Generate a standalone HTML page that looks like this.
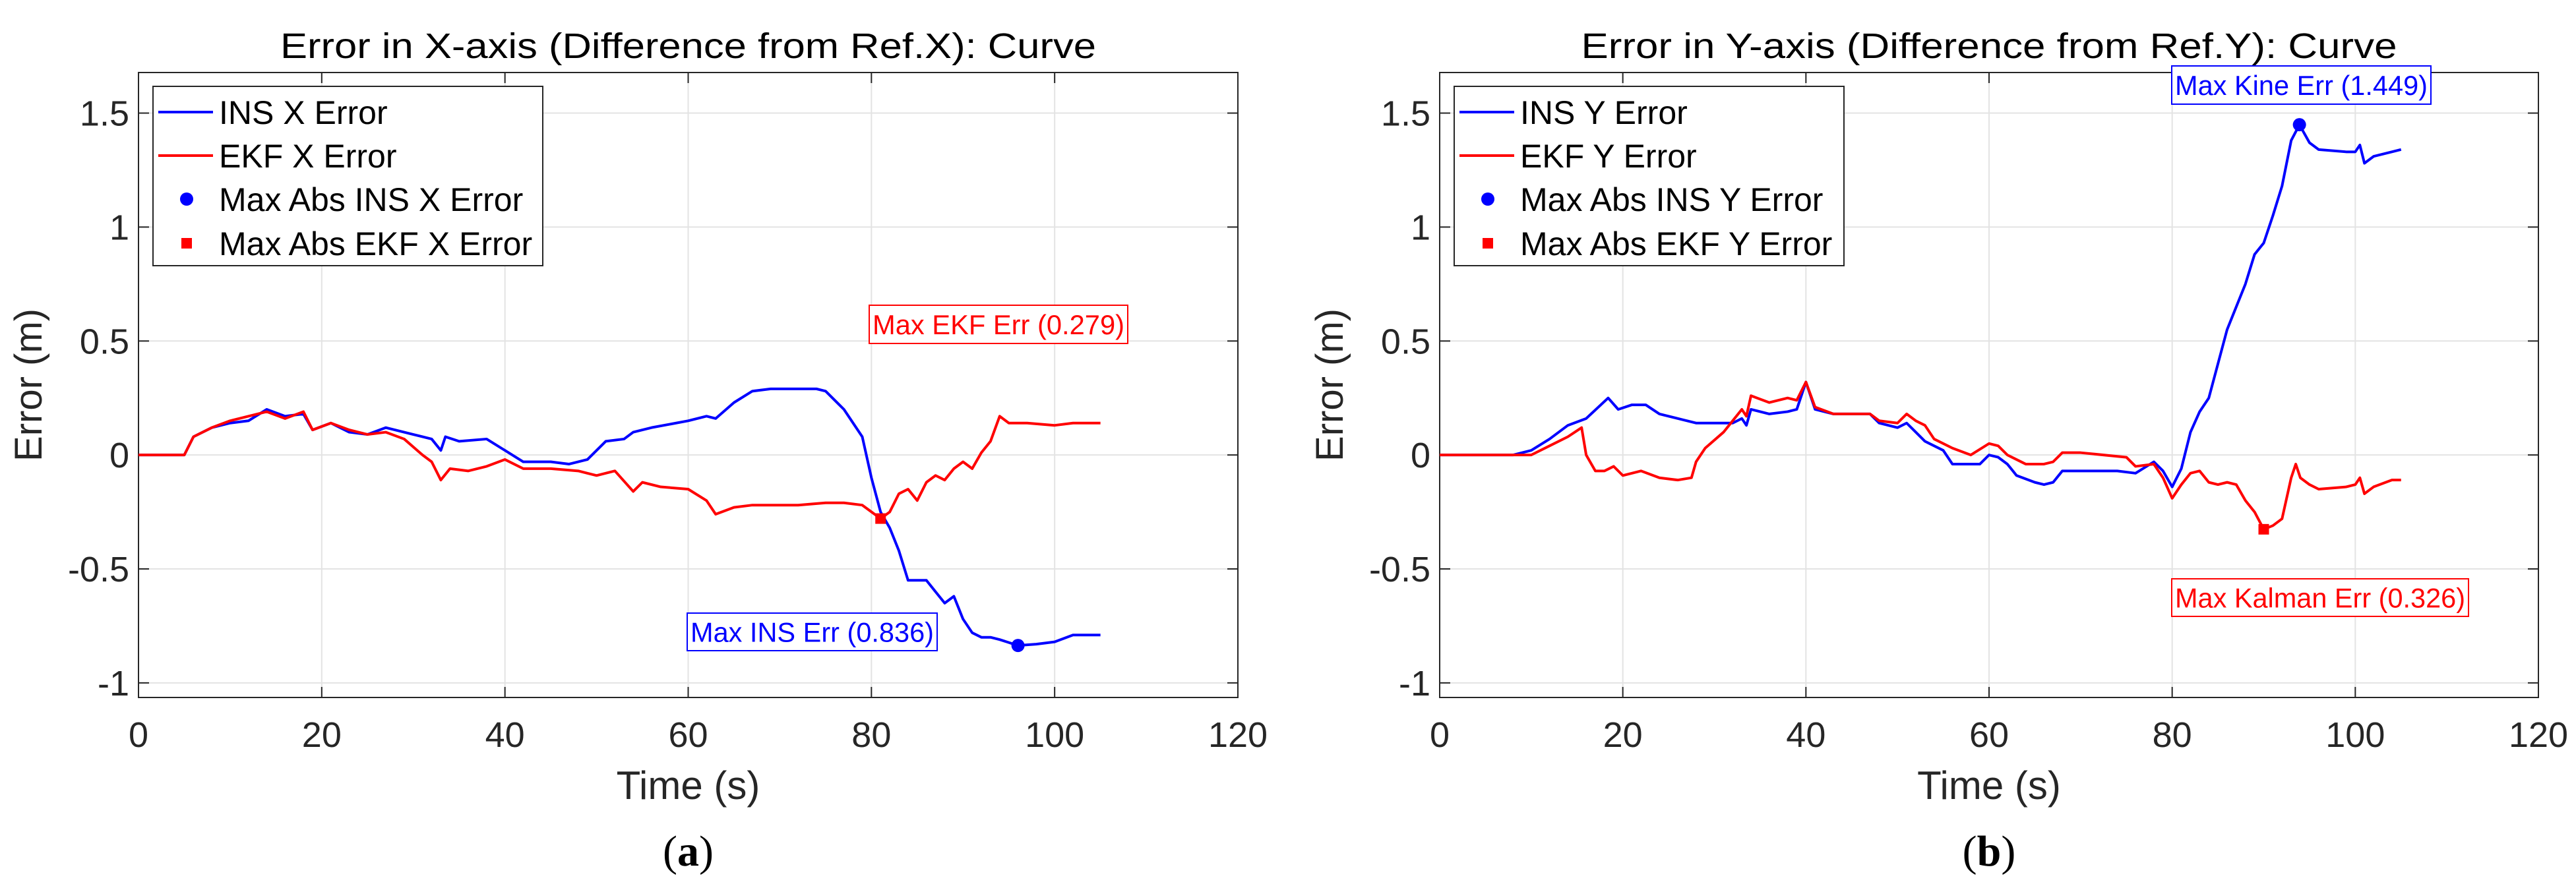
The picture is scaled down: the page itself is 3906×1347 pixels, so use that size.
<!DOCTYPE html>
<html><head><meta charset="utf-8"><style>
html,body{margin:0;padding:0;background:#fff;}
svg{display:block;font-family:"Liberation Sans",Arial,sans-serif;}
</style></head><body>
<svg id="fig" width="3906" height="1347" viewBox="0 0 3906 1347"></svg>
<script>
const xTicks=[0,20,40,60,80,100,120];
const yTicks=[-1,-0.5,0,0.5,1,1.5];
const yTickLabels=["-1","-0.5","0","0.5","1","1.5"];
const tX=[0,5,6,8,10,12,14,16,18,19,21,23,25,27,30,32,33,33.5,35,38,40,42,45,47,49,51,53,54,56,60,62,63,65,67,69,72,74,75,77,79,80,81,82,83,84,86,87,88,89,90,91,92,93,94,96,98,100,102,105];
const insX=[0,0,0.08,0.12,0.14,0.15,0.2,0.17,0.18,0.11,0.14,0.1,0.09,0.12,0.09,0.07,0.02,0.08,0.06,0.07,0.02,-0.03,-0.03,-0.04,-0.02,0.06,0.07,0.1,0.12,0.15,0.17,0.16,0.23,0.28,0.29,0.29,0.29,0.28,0.2,0.08,-0.1,-0.25,-0.32,-0.42,-0.55,-0.55,-0.6,-0.65,-0.62,-0.72,-0.78,-0.8,-0.8,-0.81,-0.836,-0.83,-0.82,-0.79,-0.79];
const tEX=[0,5,6,8,10,14,16,18,19,21,23,25,27,29,31,32,33,34,36,38,40,42,45,48,50,52,54,55,57,60,62,63,65,67,72,75,77,79,81,82,83,84,85,86,87,88,89,90,91,92,93,94,95,97,100,102,105];
const ekfX=[0,0,0.08,0.12,0.15,0.19,0.16,0.19,0.11,0.14,0.11,0.09,0.1,0.07,0,-0.03,-0.11,-0.06,-0.07,-0.05,-0.02,-0.06,-0.06,-0.07,-0.09,-0.07,-0.16,-0.12,-0.14,-0.15,-0.2,-0.26,-0.23,-0.22,-0.22,-0.21,-0.21,-0.22,-0.279,-0.25,-0.17,-0.15,-0.2,-0.12,-0.09,-0.11,-0.06,-0.03,-0.06,0.01,0.06,0.17,0.14,0.14,0.13,0.14,0.14];
const tY=[0,8,10,12,14,16,18.4,19.5,21,22.5,24,26,28,30,32,33,33.5,34,36,38,39,40,41,43,47,48,50,51,52,53,55,56,58,59,60,61,62,63,65,66,67,68,70,74,76,78,79,80,81,82,83,84,85,86,87,88,89,90,91,92,93,93.9,95,96,99,100,100.5,101,102,104,105];
const insY=[0,0,0.02,0.07,0.13,0.16,0.25,0.2,0.22,0.22,0.18,0.16,0.14,0.14,0.14,0.16,0.13,0.2,0.18,0.19,0.2,0.32,0.2,0.18,0.18,0.14,0.12,0.14,0.1,0.06,0.02,-0.04,-0.04,-0.04,0.0,-0.01,-0.04,-0.09,-0.12,-0.13,-0.12,-0.07,-0.07,-0.07,-0.08,-0.03,-0.07,-0.14,-0.06,0.1,0.19,0.25,0.4,0.55,0.65,0.75,0.88,0.93,1.05,1.18,1.38,1.449,1.37,1.34,1.33,1.33,1.36,1.28,1.31,1.33,1.34];
const tEY=[0,10,12,14,15.5,16,17,18,19,20,22,24,26,27.5,28,29,31,33,33.5,34,36,38,39,40,41,43,47,48,50,51,52,53,54,56,58,60,61,62,64,66,67,68,70,75,76,78,79,80,81,82,83,84,85,86,87,88,89,90,91,92,93,93.5,94,95,96,99,100,100.5,101,102,104,105];
const ekfY=[0,0,0.04,0.08,0.12,0.0,-0.07,-0.07,-0.05,-0.09,-0.07,-0.1,-0.11,-0.1,-0.03,0.03,0.1,0.2,0.17,0.26,0.23,0.25,0.24,0.32,0.21,0.18,0.18,0.15,0.14,0.18,0.15,0.13,0.07,0.03,0.0,0.05,0.04,0.0,-0.04,-0.04,-0.03,0.01,0.01,-0.01,-0.05,-0.04,-0.1,-0.19,-0.13,-0.08,-0.07,-0.12,-0.13,-0.12,-0.13,-0.2,-0.25,-0.326,-0.31,-0.28,-0.1,-0.04,-0.1,-0.13,-0.15,-0.14,-0.13,-0.1,-0.17,-0.14,-0.11,-0.11];
const maxInsX=[96,-0.836], maxEkfX=[81,-0.279], maxInsY=[93.9,1.449], maxEkfY=[90,-0.326];

const NS="http://www.w3.org/2000/svg";
const svg=document.getElementById('fig');
function mk(tag,attrs,parent,text){const e=document.createElementNS(NS,tag);for(const k in attrs)e.setAttribute(k,attrs[k]);if(text!==undefined)e.textContent=text;(parent||svg).appendChild(e);return e;}

function panel(cfg){
  const g=mk('g',{});
  
  
  const L=cfg.x0,R=cfg.x1,T=110,B=1058;
  const ymin=-1.064,ymax=1.678;
  const sx=t=>L+(t-0)/(120-0)*(R-L);
  const sy=v=>B-(v-ymin)/(ymax-ymin)*(B-T);
  mk('rect',{x:L,y:T,width:R-L,height:B-T,fill:'#fff'},g);
  for(const t of xTicks){const x=sx(t);
    const gl=mk('line',{x1:x,x2:x,y1:T,y2:B,stroke:'#e3e3e3','stroke-width':2},g);
    
    mk('line',{x1:x,x2:x,y1:B,y2:B-16,stroke:'#262626','stroke-width':2},g);
    mk('line',{x1:x,x2:x,y1:T,y2:T+16,stroke:'#262626','stroke-width':2},g);
    const tl=mk('text',{x:x,y:1133,'font-size':54,'text-anchor':'middle',fill:'#262626'},g,String(t));
    
  }
  yTicks.forEach((v,i)=>{const y=sy(v);
    const gl=mk('line',{x1:L,x2:R,y1:y,y2:y,stroke:'#e3e3e3','stroke-width':2},g);
    
    mk('line',{x1:L,x2:L+16,y1:y,y2:y,stroke:'#262626','stroke-width':2},g);
    mk('line',{x1:R,x2:R-16,y1:y,y2:y,stroke:'#262626','stroke-width':2},g);
    const tl=mk('text',{x:L-14,y:y+19,'font-size':54,'text-anchor':'end',fill:'#262626'},g,yTickLabels[i]);
    
  });
  const box=mk('rect',{x:L,y:T,width:R-L,height:B-T,fill:'none',stroke:'#262626','stroke-width':2},g);
  
  function line(ts,vs,col,nm){const p=mk('polyline',{points:ts.map((t,i)=>sx(t)+','+sy(vs[i])).join(' '),fill:'none',stroke:col,'stroke-width':4,'stroke-linejoin':'round'},g);
    }
  line(cfg.tI,cfg.ins,'#0000ff',cfg.key+'-ins-line');
  line(cfg.tE,cfg.ekf,'#ff0000',cfg.key+'-ekf-line');
  const c=mk('circle',{cx:sx(cfg.mI[0]),cy:sy(cfg.mI[1]),r:10,fill:'#0000ff'},g);
  
  const s=mk('rect',{x:sx(cfg.mE[0])-8,y:sy(cfg.mE[1])-8,width:16,height:16,fill:'#ff0000'},g);
  
  cfg.ann.forEach(a=>{const ag=mk('g',{},g);
    
    mk('rect',{x:a.x,y:a.y,width:a.w,height:a.h,fill:'#fff',stroke:a.col,'stroke-width':2},ag);
    mk('text',{x:a.x+a.w/2,y:a.y+a.h/2+15,'font-size':42,'text-anchor':'middle',fill:a.col,textLength:a.w-10,lengthAdjust:'spacingAndGlyphs'},ag,a.text);
  });
  const lg=mk('g',{},g);
  
  const lx=L+22;
  mk('rect',{x:lx,y:131,width:591,height:272,fill:'#fff',stroke:'#262626','stroke-width':2},lg);
  const ys=[170,236,302,369];
  cfg.leg.forEach((t,i)=>{const y=ys[i];
    const e=mk('g',{},lg);
    
    if(i<2) mk('line',{x1:lx+8,x2:lx+91,y1:y,y2:y,stroke:i?'#ff0000':'#0000ff','stroke-width':4},e);
    else if(i==2) mk('circle',{cx:lx+51,cy:y,r:10,fill:'#0000ff'},e);
    else mk('rect',{x:lx+43,y:y-8,width:16,height:16,fill:'#ff0000'},e);
    mk('text',{x:lx+100,y:y+18,'font-size':50,fill:'#000'},e,t);
  });
  const cx=(L+R)/2;
  const ti=mk('text',{x:cx,y:88,'font-size':54,'text-anchor':'middle',fill:'#000',textLength:1237,lengthAdjust:'spacingAndGlyphs'},g,cfg.title);
  
  const xl=mk('text',{x:cx,y:1212,'font-size':60,'text-anchor':'middle',fill:'#262626'},g,'Time (s)');
  
  const yl=mk('text',{x:0,y:0,'font-size':58,'text-anchor':'middle',fill:'#262626',transform:`translate(${L-147},584) rotate(-90)`},g,'Error (m)');
  
  const cp=mk('text',{x:cx,y:1313,'font-size':66,'text-anchor':'middle',fill:'#000','font-family':'"Liberation Serif",serif'},g,'');
  
  mk('tspan',{},cp,'(');mk('tspan',{'font-weight':'bold'},cp,cfg.cap);mk('tspan',{},cp,')');
}
panel({name:'x-error-panel',key:'x',x0:210,x1:1877,tI:tX,ins:insX,tE:tEX,ekf:ekfX,mI:maxInsX,mE:maxEkfX,
  title:'Error in X-axis (Difference from Ref.X): Curve',cap:'a',
  leg:['INS X Error','EKF X Error','Max Abs INS X Error','Max Abs EKF X Error'],
  ann:[{name:'ekf-max-annotation',x:1318,y:463,w:392,h:58,col:'#ff0000',text:'Max EKF Err (0.279)'},
       {name:'ins-max-annotation',x:1042,y:930,w:379,h:57,col:'#0000ff',text:'Max INS Err (0.836)'}]});
panel({name:'y-error-panel',key:'y',x0:2183,x1:3849,tI:tY,ins:insY,tE:tEY,ekf:ekfY,mI:maxInsY,mE:maxEkfY,
  title:'Error in Y-axis (Difference from Ref.Y): Curve',cap:'b',
  leg:['INS Y Error','EKF Y Error','Max Abs INS Y Error','Max Abs EKF Y Error'],
  ann:[{name:'ins-max-annotation',x:3293,y:100,w:393,h:58,col:'#0000ff',text:'Max Kine Err (1.449)'},
       {name:'ekf-max-annotation',x:3293,y:878,w:450,h:57,col:'#ff0000',text:'Max Kalman Err (0.326)'}]});
</script>
</body></html>
